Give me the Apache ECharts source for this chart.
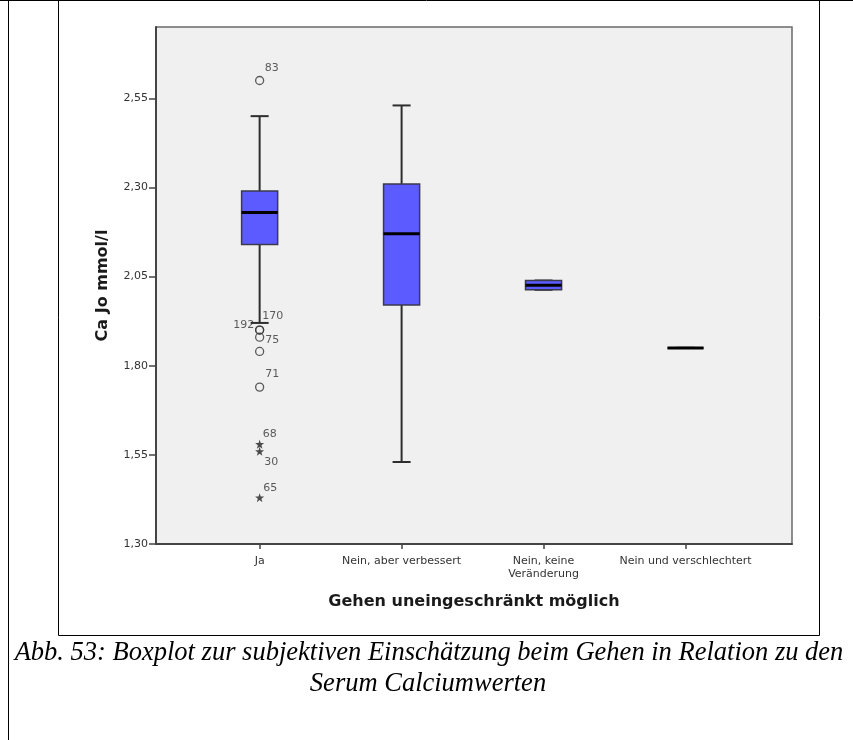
<!DOCTYPE html>
<html>
<head>
<meta charset="utf-8">
<script src="https://cdn.jsdelivr.net/npm/echarts@6/dist/echarts.min.js"></script>
<style>
html,body{margin:0;padding:0;background:#fff;}
#chart{width:853px;height:740px;}
</style>
</head>
<body>
<div id="chart"></div>
<script>
// ---- data ----
const categories = ['Ja', 'Nein, aber verbessert', 'Nein, keine\nVeränderung', 'Nein und verschlechtert'];
const boxMin    = [1.92, 1.53, 2.013, 1.85];
const boxQ1     = [2.14, 1.97, 2.013, 1.85];
const boxMedian = [2.23, 2.17, 2.026, 1.85];
const boxQ3     = [2.29, 2.31, 2.039, 1.85];
const boxMax    = [2.50, 2.53, 2.039, 1.85];

// outliers (all in category "Ja")
const circleValues = [2.60, 1.90, 1.90, 1.88, 1.84, 1.74];
const circleIds    = ['83', '192', '170', '75', '', '71'];
const starValues   = [1.58, 1.56, 1.43];
const starIds      = ['68', '30', '65'];

const yTicks = [1.30, 1.55, 1.80, 2.05, 2.30, 2.55];
const yMin = 1.30, yMax = 2.75;

const xAxisTitle = 'Gehen uneingeschränkt möglich';
const yAxisTitle = 'Ca Jo mmol/l';
const captionLines = ['Abb. 53: Boxplot zur subjektiven Einschätzung beim Gehen in Relation zu den', 'Serum Calciumwerten'];

// ---- styling helpers ----
const labelOffsets = {
  '83': [12, -12.5], '170': [13, -13.5], '192': [-16, -5], '75': [12.5, 2.5],
  '71': [12.5, -12.5], '68': [10, -10], '30': [11.5, 11], '65': [10.5, -10]
};
const starPath = 'path://M0,-10 L2.35,-3.24 L9.51,-3.09 L3.8,1.24 L5.88,8.09 L0,4 L-5.88,8.09 L-3.8,1.24 L-9.51,-3.09 L-2.35,-3.24 Z';

function outlierItems(vals, ids) {
  return vals.map((v, i) => {
    const id = ids[i];
    return {
      value: [0, v],
      name: id,
      label: id ? { show: true, offset: labelOffsets[id] || [10, -10] } : { show: false }
    };
  });
}

const boxData = categories.map((c, i) => [i, boxMin[i], boxQ1[i], boxMedian[i], boxQ3[i], boxMax[i]]);

function renderBox(params, api) {
  const x = api.value(0);
  const pLo = api.coord([x, api.value(1)]);
  const pQ1 = api.coord([x, api.value(2)]);
  const pMed = api.coord([x, api.value(3)]);
  const pQ3 = api.coord([x, api.value(4)]);
  const pHi = api.coord([x, api.value(5)]);
  const unit = api.size([1, 0])[0];
  const bw = unit * 0.254;
  const cw = bw / 2;
  const cx = pMed[0];
  const whisk = { stroke: '#2e2e2e', lineWidth: 2 };
  return {
    type: 'group',
    children: [
      { type: 'line', shape: { x1: cx, y1: pHi[1], x2: cx, y2: pQ3[1] }, style: whisk },
      { type: 'line', shape: { x1: cx, y1: pQ1[1], x2: cx, y2: pLo[1] }, style: whisk },
      { type: 'line', shape: { x1: cx - cw / 2, y1: pHi[1], x2: cx + cw / 2, y2: pHi[1] }, style: whisk },
      { type: 'line', shape: { x1: cx - cw / 2, y1: pLo[1], x2: cx + cw / 2, y2: pLo[1] }, style: whisk },
      { type: 'rect', shape: { x: cx - bw / 2, y: pQ3[1], width: bw, height: pQ1[1] - pQ3[1] },
        style: { fill: '#5b5bff', stroke: '#3a3a4c', lineWidth: 1.5 } },
      { type: 'line', shape: { x1: cx - bw / 2, y1: pMed[1], x2: cx + bw / 2, y2: pMed[1] },
        style: { stroke: '#000', lineWidth: 3 } }
    ]
  };
}

const chart = echarts.init(document.getElementById('chart'), null, { renderer: 'canvas' });
const tickFont = { fontFamily: 'DejaVu Sans', fontSize: 11, color: '#333' };
const captionStyle = { fontFamily: 'Liberation Serif', fontStyle: 'italic', fontSize: 26.5, fill: '#000', textAlign: 'center', textVerticalAlign: 'middle' };

chart.setOption({
  animation: false,
  backgroundColor: '#ffffff',
  grid: {
    left: 156, right: 61, top: 27, bottom: 196,
    show: true, backgroundColor: '#f0f0f0', borderColor: '#6a6a6a', borderWidth: 1.5,
    containLabel: false, outerBoundsMode: 'none'
  },
  xAxis: {
    type: 'value', min: -0.73, max: 3.75,
    name: xAxisTitle, nameLocation: 'middle', nameGap: 50,
    nameTextStyle: { fontFamily: 'DejaVu Sans', fontWeight: 'bold', fontSize: 16, color: '#1a1a1a' },
    axisLine: { show: true, onZero: false, lineStyle: { color: '#444', width: 2 } },
    axisTick: { show: true, length: 5, customValues: [0, 1, 2, 3], lineStyle: { color: '#444', width: 1.5 } },
    axisLabel: Object.assign({ customValues: [0, 1, 2, 3], margin: 11, lineHeight: 13,
      formatter: v => categories[Math.round(v)] }, tickFont),
    splitLine: { show: false }
  },
  yAxis: {
    type: 'value', min: yMin, max: yMax,
    name: yAxisTitle, nameLocation: 'middle', nameGap: 45, nameRotate: 90,
    nameTextStyle: { fontFamily: 'DejaVu Sans', fontWeight: 'bold', fontSize: 16, color: '#1a1a1a' },
    axisLine: { show: true, onZero: false, lineStyle: { color: '#444', width: 2 } },
    axisTick: { show: true, length: 7, customValues: yTicks, lineStyle: { color: '#444', width: 1.5 } },
    axisLabel: Object.assign({ customValues: yTicks, margin: 8,
      formatter: v => v.toFixed(2).replace('.', ',') }, tickFont),
    splitLine: { show: false }
  },
  graphic: [
    { type: 'line', silent: true, shape: { x1: 0, y1: 0.5, x2: 853, y2: 0.5 }, style: { stroke: '#000', lineWidth: 1 } },
    { type: 'line', silent: true, shape: { x1: 8.5, y1: 0, x2: 8.5, y2: 740 }, style: { stroke: '#000', lineWidth: 1 } },
    { type: 'line', silent: true, shape: { x1: 58.5, y1: 0, x2: 58.5, y2: 635.5 }, style: { stroke: '#000', lineWidth: 1 } },
    { type: 'line', silent: true, shape: { x1: 819.5, y1: 0, x2: 819.5, y2: 635.5 }, style: { stroke: '#000', lineWidth: 1 } },
    { type: 'line', silent: true, shape: { x1: 58.5, y1: 635.5, x2: 819.5, y2: 635.5 }, style: { stroke: '#000', lineWidth: 1 } },
    { type: 'text', silent: true, style: Object.assign({ x: 429, y: 653, text: captionLines[0] }, captionStyle) },
    { type: 'text', silent: true, style: Object.assign({ x: 428, y: 684, text: captionLines[1] }, captionStyle) }
  ],
  series: [
    {
      type: 'custom',
      renderItem: renderBox,
      encode: { x: 0, y: [1, 2, 3, 4, 5] },
      data: boxData,
      z: 2
    },
    {
      type: 'scatter',
      symbol: 'circle',
      symbolSize: 8,
      itemStyle: { color: 'rgba(0,0,0,0)', borderColor: '#333', borderWidth: 1.3 },
      label: Object.assign({ position: 'inside', formatter: p => p.name }, tickFont),
      data: outlierItems(circleValues, circleIds),
      z: 3
    },
    {
      type: 'scatter',
      symbol: starPath,
      symbolSize: 9,
      itemStyle: { color: '#222' },
      label: Object.assign({ position: 'inside', formatter: p => p.name }, tickFont),
      data: outlierItems(starValues, starIds),
      z: 3
    }
  ]
});
</script>
</body>
</html>
